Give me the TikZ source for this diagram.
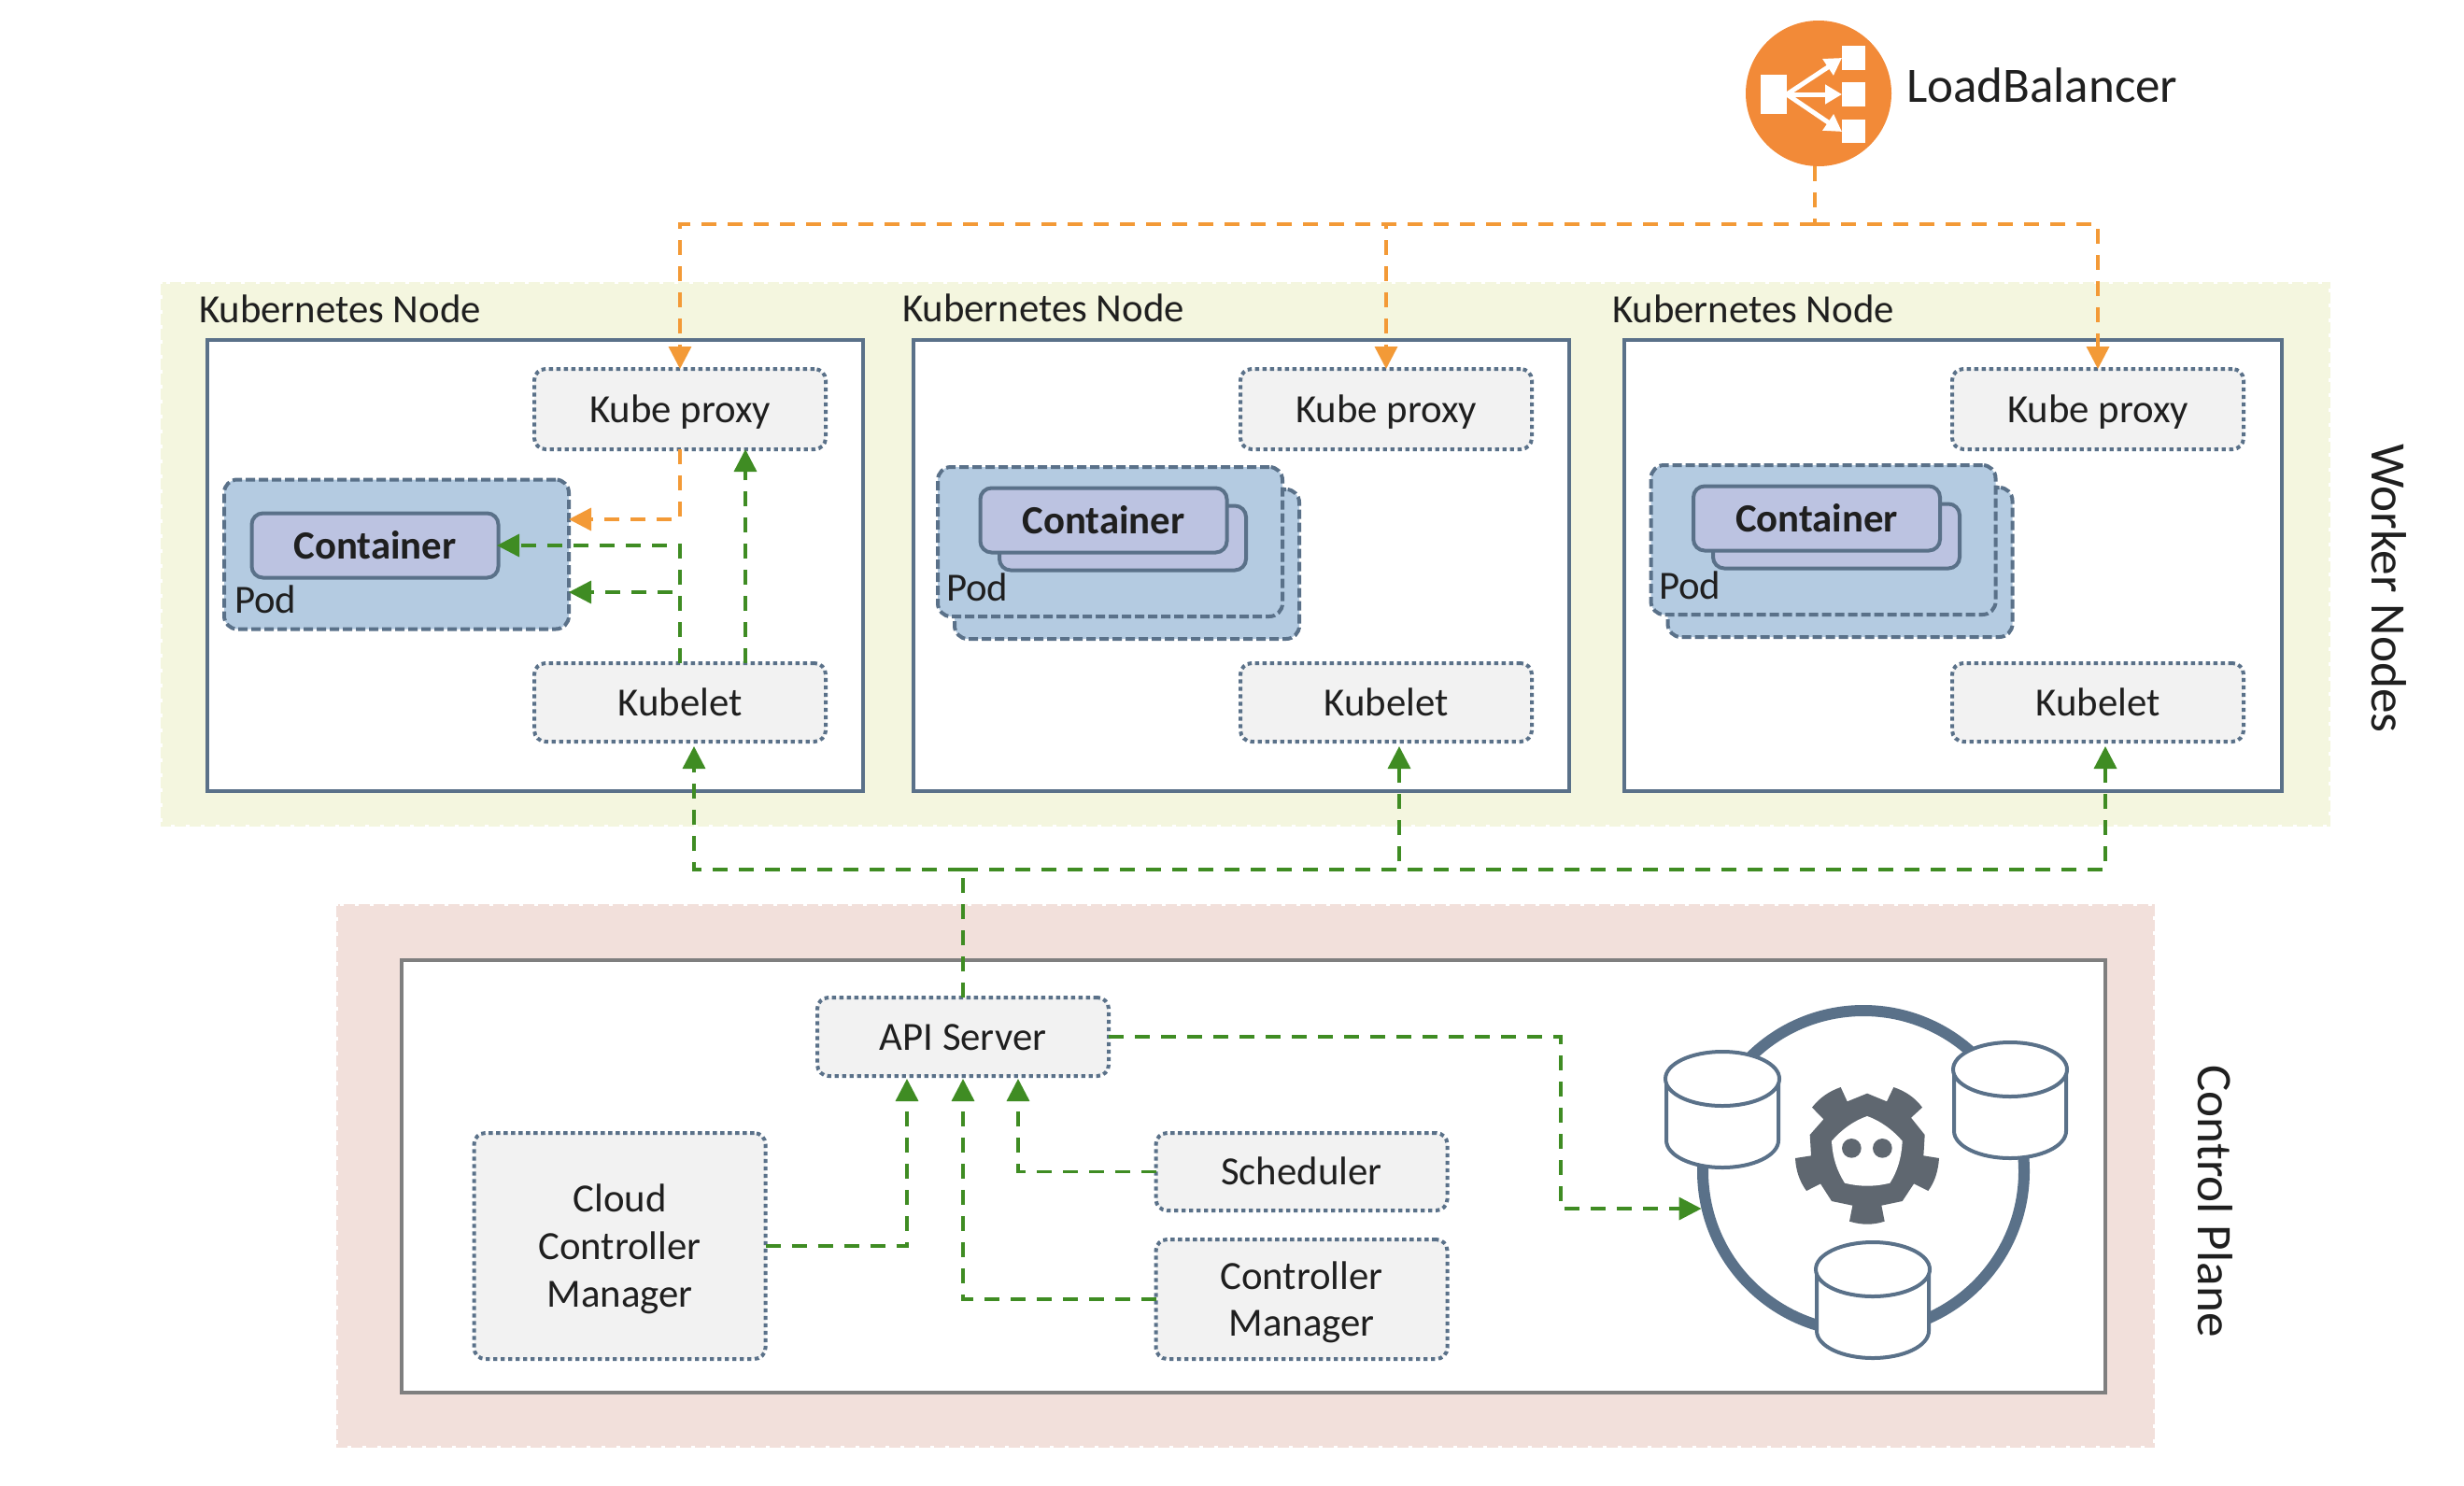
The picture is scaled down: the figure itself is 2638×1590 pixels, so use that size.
\documentclass[tikz,border=0pt]{standalone}
\usepackage{fontspec}
\setmainfont{Carlito}
\usetikzlibrary{arrows.meta,calc,shapes.geometric}
\definecolor{slateb}{HTML}{5A7189}
\definecolor{orangeln}{HTML}{F39A37}
\definecolor{orangelb}{HTML}{F28A38}
\definecolor{greenln}{HTML}{3F8C23}
\definecolor{podfill}{HTML}{B4CBE1}
\definecolor{contfill}{HTML}{BCC3E1}
\definecolor{boxfill}{HTML}{F2F2F2}
\definecolor{workerbg}{HTML}{F4F6DF}
\definecolor{ctrlbg}{HTML}{F2E0DB}
\definecolor{gearc}{HTML}{5F6770}
\definecolor{txtc}{HTML}{1F1F1F}
\definecolor{ctrlline}{HTML}{7F7F7F}
\tikzset{
  every node/.style={text=txtc,font=\fontsize{21.4}{25.5}\selectfont,inner sep=0pt,outer sep=0pt},
  svcshape/.style={draw=slateb,fill=boxfill,line width=2pt,dash pattern=on 2.2pt off 1.8pt,rounded corners=6pt,align=center,minimum width=156pt},
  svcbox/.style={svcshape,text height=14pt,text depth=0pt},
  nodebox/.style={draw=slateb,fill=white,line width=2pt,minimum width=#1,minimum height=241.5pt},
  podbox/.style={draw=slateb,fill=podfill,line width=2pt,dash pattern=on 5pt off 2pt,rounded corners=7pt,minimum width=184.5pt,minimum height=80pt},
  contbox/.style={draw=slateb,fill=contfill,line width=2pt,rounded corners=6pt,minimum width=132pt,minimum height=34.5pt,font=\fontsize{21.4}{25.5}\selectfont\bfseries,text height=14pt,text depth=0pt},
  label/.style={anchor=base west},
  sidetitle/.style={rotate=-90,font=\fontsize{26.6}{30}\selectfont},
  link/.style={line width=1.75pt,dash pattern=on 8pt off 6pt,-{Triangle[length=12pt,width=12pt]}},
  plainlink/.style={line width=1.75pt,dash pattern=on 8pt off 6pt},
  dbline/.style={draw=slateb,line width=2pt,fill=white},
  lbarrow/.style={white,line width=2.5pt,-{Triangle[length=9pt,width=10pt]}},
}
\newcommand{\dbcyl}[3]{% cx, top y, bottom y
  \path[dbline] (#1-60,#2+29) -- (#1-60,#3-29) arc[start angle=180,end angle=0,x radius=60,y radius=29] -- (#1+60,#2+29);
  \draw[dbline] (#1,#2+29) ellipse[x radius=61,y radius=29];
}
\begin{document}
\begin{tikzpicture}[x=0.5pt,y=-0.5pt]
\useasboundingbox (0,0) rectangle (2638,1590);
\fill[white] (0,0) rectangle (2638,1590);
% backgrounds
\draw[workerbg,fill=workerbg,line width=2pt,dash pattern=on 6pt off 2pt] (174,304) rectangle (2493,883);
\draw[ctrlbg,fill=ctrlbg,line width=2pt,dash pattern=on 6pt off 2pt] (362,970) rectangle (2305,1548);
% load balancer
\node[circle,fill=orangelb,minimum size=78pt] (lb) at (1947,100) {};
\fill[white] (1885,80) rectangle (1913,122);
\fill[white] (1972,49) rectangle (1997,75);
\fill[white] (1972,88) rectangle (1997,114);
\fill[white] (1972,128) rectangle (1997,153);
\draw[lbarrow] (1913,101) -- (1972,62);
\draw[lbarrow] (1913,101) -- (1972,101);
\draw[lbarrow] (1913,101) -- (1972,141);
\node[anchor=base west,font=\fontsize{26.5}{30}\selectfont] (lbtext) at (2041,109) {LoadBalancer};
% kubernetes nodes
\node[nodebox=351pt] (n1) at (573,605.5) {};
\node[nodebox=351pt] (n2) at (1328.5,605.5) {};
\node[nodebox=352pt] (n3) at (2090.5,605.5) {};
\node[label] (n1t) at (213,345) {Kubernetes Node};
\node[label] (n2t) at (966,344) {Kubernetes Node};
\node[label] (n3t) at (1726,345) {Kubernetes Node};
% kube proxy and kubelet
\foreach \i/\cx in {1/728,2/1484,3/2246}{
  \node[svcbox,minimum height=43pt] (kp\i) at (\cx,438) {Kube proxy};
  \node[svcbox,minimum height=42pt] (kl\i) at (\cx,752) {Kubelet};
}
% pod 1
\node[podbox] (pod1) at (424.5,593.5) {};
\node[contbox] (c1) at (401.5,584) {Container};
\node[label] (pod1t) at (251,656) {Pod};
% pod 2
\node[podbox] (pod2b) at (1206.5,604) {};
\node[podbox] (pod2) at (1188.5,580) {};
\node[contbox] (c2b) at (1202,576) {};
\node[contbox] (c2) at (1181.5,557) {Container};
\node[label] (pod2t) at (1013,643) {Pod};
% pod 3
\node[podbox] (pod3b) at (1970,602) {};
\node[podbox] (pod3) at (1952,578) {};
\node[contbox] (c3b) at (1966,574) {};
\node[contbox] (c3) at (1945,555) {Container};
\node[label] (pod3t) at (1776,641) {Pod};
% side titles
\node[sidetitle] (wn) at (2558,630) {Worker Nodes};
\node[sidetitle] (cp) at (2372,1286) {Control Plane};
% control plane
\node[draw=ctrlline,fill=white,line width=2pt,minimum width=912pt,minimum height=231.5pt] (cpbox) at (1341.5,1259.5) {};
\node[svcbox,minimum height=42pt] (api) at (1031,1110) {API Server};
\node[svcshape,minimum height=121pt] (ccm) at (663.5,1334) {Cloud\\Controller\\\smash{Manager}};
\node[svcbox,minimum height=41.5pt] (sch) at (1393.5,1254.5) {Scheduler};
\node[svcshape,minimum height=64pt] (cm) at (1393.5,1391) {\raisebox{-1pt}{Controller}\\[0.5pt]\smash{Manager}};
% etcd
\node[circle,draw=slateb,line width=6pt,minimum size=172pt,fill=white,outer sep=3pt] (etcd) at (1995,1254) {};
\dbcyl{1844}{1126}{1250}
\dbcyl{2152}{1116}{1240}
\dbcyl{2005}{1330}{1454}
\begin{scope}[shift={(1740,1040)},x=0.16667pt,y=-0.16667pt]
\fill[gearc] (777,392) -- (840,418) -- (862,372) .. controls (900,385) and (930,405) .. (954,437)
 -- (918,470) -- (962,525) -- (958,592) -- (1008,600) .. controls (1005,640) and (995,675) .. (973,705)
 -- (927,682) -- (890,738) -- (823,752) -- (833,803) .. controls (795,815) and (760,815) .. (720,803)
 -- (730,752) -- (663,738) -- (627,682) -- (582,705) .. controls (560,675) and (548,640) .. (546,600)
 -- (597,592) -- (593,525) -- (637,475) -- (600,437) .. controls (625,405) and (655,385) .. (692,372)
 -- (713,418) -- cycle;
\fill[white] (777,465) .. controls (820,480) and (860,510) .. (890,545)
 .. controls (887,600) and (875,640) .. (850,680) .. controls (800,692) and (755,692) .. (705,680)
 .. controls (680,640) and (666,600) .. (663,545) .. controls (693,510) and (733,480) .. (777,465) -- cycle;
\fill[gearc] (727,568) circle[radius=31];
\fill[gearc] (826,568) circle[radius=31];
\end{scope}
% coordinates
\coordinate (obus) at (1943,240);
\coordinate (gbus) at (1031,931);
\coordinate (tk1) at (743,799);
\coordinate (tk2) at (1498,799);
\coordinate (tk3) at (2254,799);
\coordinate (upx) at (798,600);
\coordinate (podo) at (609,556);
\coordinate (podg) at (609,634);
\coordinate (contg) at (532,584);
\coordinate (etcdv) at (1671,1200);
\coordinate (apiccm) at (971,1155);
\coordinate (apicm) at (1031,1155);
\coordinate (apisch) at (1090,1155);
% orange links
\draw[orangeln,plainlink] (obus |- lb.south) -- (obus);
\draw[orangeln,link] (obus) -| (kp1.north);
\draw[orangeln,link] (obus) -| (kp2.north);
\draw[orangeln,link] (obus) -| (kp3.north);
\draw[orangeln,link] (kp1.south) |- (podo);
% green links
\draw[greenln,link] (kl1.north) |- (contg);
\draw[greenln,link] (kl1.north) |- (podg);
\draw[greenln,link] (kl1.north -| upx) -- (kp1.south -| upx);
\draw[greenln,plainlink] (api.north) -- (gbus);
\draw[greenln,link] (gbus) -| (tk1);
\draw[greenln,link] (gbus) -| (tk2);
\draw[greenln,link] (gbus) -| (tk3);
\draw[greenln,link] (api.east) -| (etcdv) |- (etcd.193.6);
\draw[greenln,link] (ccm.east) -| (apiccm);
\draw[greenln,link] (cm.west) -| (apicm);
\draw[greenln,link] (sch.west) -| (apisch);
\end{tikzpicture}
\end{document}
